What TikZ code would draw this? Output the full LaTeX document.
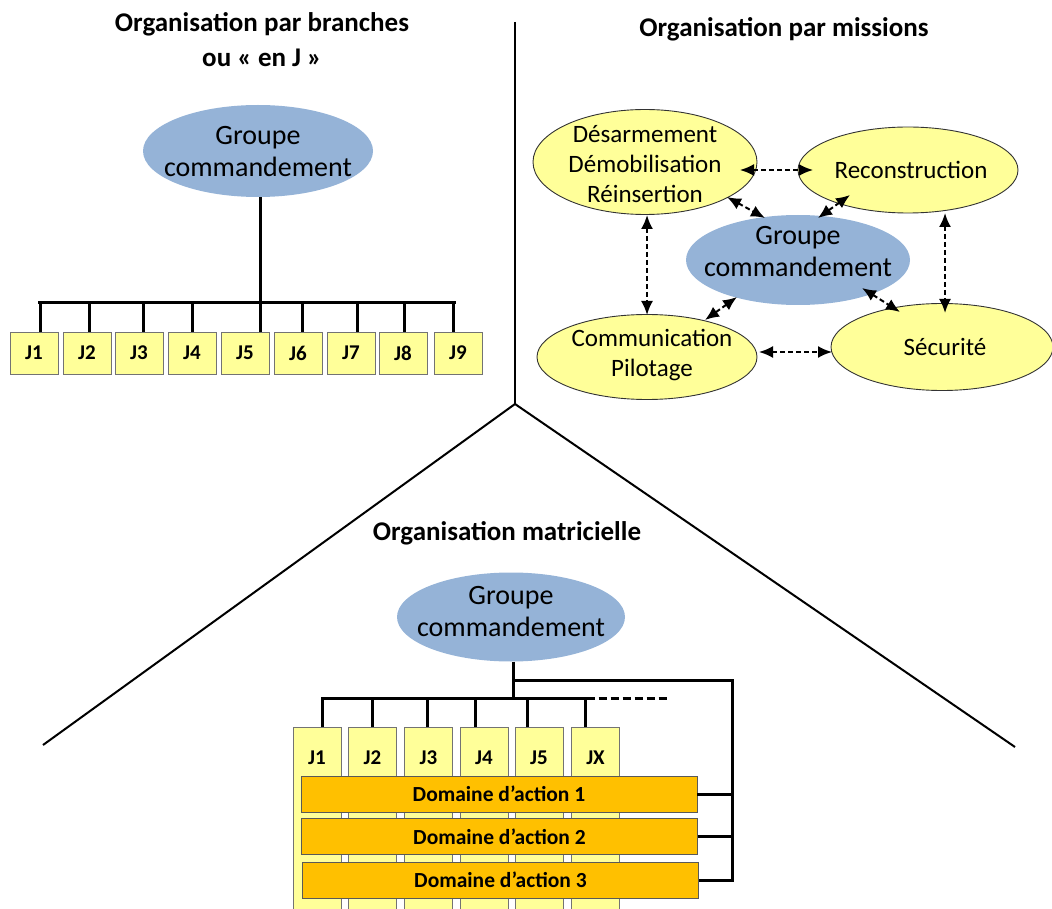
\documentclass[tikz,border=0pt]{standalone}
\usepackage{fontspec}
\setmainfont{Carlito}
\usetikzlibrary{shapes.geometric,arrows.meta,calc}
\definecolor{gblue}{HTML}{95B3D7}
\definecolor{lyel}{HTML}{FFFF99}
\definecolor{orng}{HTML}{FFC000}
\begin{document}
\begin{tikzpicture}[x=1pt,y=-1pt,
  ttl/.style={font=\fontsize{27}{35}\selectfont\bfseries, align=center},
  gell/.style={ellipse, fill=gblue, inner sep=0pt},
  yell/.style={ellipse, fill=lyel, draw=black!80, line width=0.9pt, inner sep=0pt},
  body/.style={font=\fontsize{25}{30}\selectfont, align=center, inner sep=0pt},
  gtext/.style={font=\fontsize{28}{32}\selectfont, align=center, inner sep=0pt},
  jbox/.style={rectangle, fill=lyel, draw=black!55, line width=0.9pt, minimum width=48pt, minimum height=42pt, inner sep=0pt, font=\fontsize{21}{24}\selectfont\bfseries},
  jcol/.style={rectangle, fill=lyel, draw=black!55, line width=0.9pt, minimum width=48pt, minimum height=190pt, inner sep=0pt, anchor=north},
  jlbl/.style={font=\fontsize{21}{24}\selectfont\bfseries, inner sep=0pt},
  dom/.style={rectangle, fill=orng, draw=black!65, line width=0.9pt, minimum width=396pt, minimum height=36pt, inner sep=0pt, font=\fontsize{21.5}{24}\selectfont\bfseries},
  tree/.style={line width=3pt},
  divider/.style={line width=2pt},
  arr/.style={{Latex[length=14pt,width=12pt]}-{Latex[length=14pt,width=12pt]}, line width=2pt, dash pattern=on 5pt off 3pt}
]
\useasboundingbox (0,0) rectangle (1052,909);
\clip (0,0) rectangle (1052,909);

% dividers
\coordinate (top) at (515,22);
\coordinate (apex) at (515,404);
\coordinate (bl) at (43,745);
\coordinate (br) at (1015,747);
\draw[divider] (top) -- (apex);
\draw[divider] (bl) -- (apex) -- (br);

% titles
\node[ttl] (t1) at (262,40) {Organisation par branches\\ou « en J »};
\node[ttl] (t2) at (784,29) {Organisation par missions};
\node[ttl] (t3) at (507,533) {Organisation matricielle};

% ---------- left: par branches ----------
\node[gell, minimum width=230pt, minimum height=92pt] (g1) at (258,151) {};
\node[gtext] (g1t) at (258,152) {Groupe\\commandement};
\foreach \i/\x in {1/34,2/87,3/139,4/192,5/245,6/298,7/351,8/403,9/458}{
  \node[jbox] (j\i) at (\x,353) {J\i};
}
\draw[tree] ($(g1.south)+(2,0)$) -- ($(j5.north)+(15,0)$);
\draw[tree] ($(j1.north)+(4,-29)$) -- ($(j9.north)+(-2,-29)$);
\foreach \i/\d in {1/6,2/2,3/4,4/0,6/4,7/6,8/1,9/-5}{
  \draw[tree] ($(j\i.north)+(\d,0)$) -- ++(0,-29);
}

% ---------- right: par missions ----------
\node[yell, minimum width=224pt, minimum height=105pt] (ddr) at (645,162) {};
\node[body] (ddrt) at (645,164) {Désarmement\\Démobilisation\\Réinsertion};
\node[yell, minimum width=220pt, minimum height=86pt] (rec) at (908,170) {};
\node[body] (rect) at (911,170) {Reconstruction};
\node[gell, minimum width=224pt, minimum height=90pt] (gm) at (798,260) {};
\node[gtext] (gmt) at (798,252) {Groupe\\commandement};
\node[yell, minimum width=220pt, minimum height=85pt] (com) at (647,357) {};
\node[body] (comt) at (652,355) {Communication\\Pilotage};
\node[yell, minimum width=222pt, minimum height=87pt] (sec) at (942,347) {};
\node[body] (sect) at (945,347) {Sécurité};

\draw[arr] ($(ddr)+(95,8)$) -- ($(rec)+(-95,0)$);
\draw[arr] ($(ddr)+(82,35)$) -- ($(gm)+(-33,-42)$);
\draw[arr] ($(rec)+(-58,25)$) -- ($(gm)+(20,-42)$);
\draw[arr] ($(ddr)+(2,53)$) -- ($(com)+(0,-42)$);
\draw[arr] ($(rec)+(37,43)$) -- ($(sec)+(3,-34)$);
\draw[arr] ($(gm)+(-61,37)$) -- ($(com)+(58,-37)$);
\draw[arr] ($(gm)+(64,28)$) -- ($(sec)+(-42,-35)$);
\draw[arr] ($(com)+(112,-5)$) -- ($(sec)+(-110,5)$);

% ---------- bottom: matricielle ----------
\node[gell, minimum width=228pt, minimum height=89pt] (gb) at (511,617) {};
\node[gtext] (gbt) at (511,612) {Groupe\\commandement};
\foreach \i/\x/\t in {1/317/J1,2/372.5/J2,3/428.5/J3,4/484/J4,5/539/J5,6/595.5/JX}{
  \node[jcol] (c\i) at (\x,727) {};
  \node[jlbl] (l\i) at (\x,758) {\t};
}
\node[dom] (d1) at (499,794) {Domaine d’action 1};
\node[dom] (d2) at (499.5,836.5) {Domaine d’action 2};
\node[dom] (d3) at (500.5,880) {Domaine d’action 3};

\coordinate (hub) at (513,680);
\coordinate (corner) at (732,680);
\coordinate (dashend) at (670,698);
\draw[tree] ($(gb.south)+(2,0)$) -- ($(gb.south)+(2,36)$);
\draw[tree] (hub) -- (corner) -- (corner |- d3.east) -- (d3.east);
\draw[tree] (d1.east) -- (d1.east -| corner);
\draw[tree] (d2.east) -- (d2.east -| corner);
\draw[tree] ($(c1.north)+(4,-29)$) -- ($(c6.north)+(-9,-29)$);
\draw[tree, dash pattern=on 8pt off 4pt] ($(c6.north)+(-9,-29)$) -- (dashend);
\foreach \i/\d in {1/5.5,2/0,3/-1.5,4/-9,5/-12,6/-10.5}{
  \draw[tree] ($(c\i.north)+(\d,0)$) -- ++(0,-29);
}
\end{tikzpicture}
\end{document}
